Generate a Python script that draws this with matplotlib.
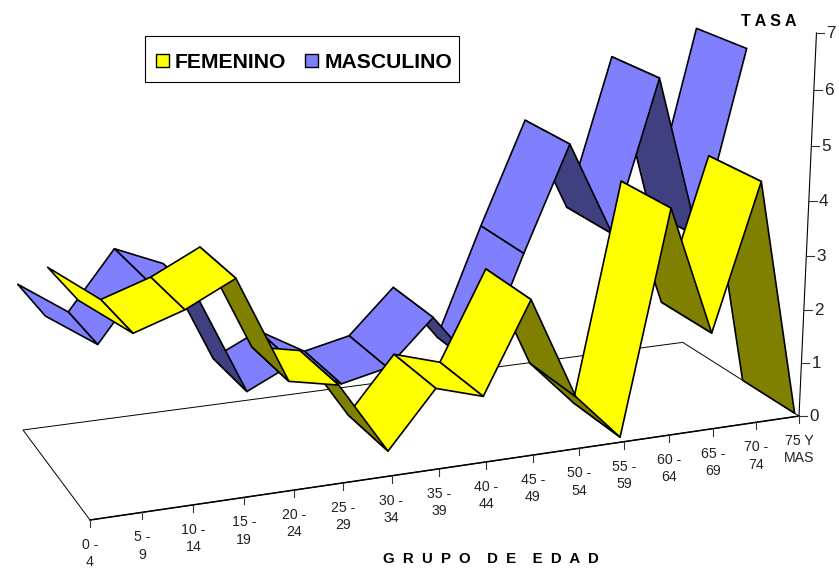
import matplotlib
matplotlib.use("Agg")
import matplotlib.pyplot as plt
from matplotlib.patches import Patch, Polygon, Rectangle

plt.rcParams['font.family'] = ['Liberation Sans', 'DejaVu Sans']

categories = ["0 -\n4", "5 -\n9", "10 -\n14", "15 -\n19", "20 -\n24", "25 -\n29", "30 -\n34", "35 -\n39",
              "40 -\n44", "45 -\n49", "50 -\n54", "55 -\n59", "60 -\n64", "65 -\n69", "70 -\n74", "75 Y\nMAS"]
femenino = [3.69, 3.03, 3.32, 3.75, 1.87, 1.69, 0.39, 1.40, 1.14, 2.77, 0.90, 0.03, 4.11, 1.74, 4.41, 0.0]
masculino = [2.75, 2.14, 3.20, 2.83, 0.95, 1.36, 0.86, 1.05, 1.88, 0.81, 2.87, 4.80, 3.05, 5.85, 2.80, 6.25]
value_ticks = [0, 1, 2, 3, 4, 5, 6, 7]

N_CAT = len(categories)
V_MAX = value_ticks[-1]


def project(cat, depth, value):
    """Perspective view of (category, depth 0..1, value) to figure pixels."""
    t = cat / (N_CAT - 1)
    w = value / V_MAX
    den = 1 + 0.11 * t + 0.094 * depth - 0.0502 * w
    x = (90 + 796.9 * t - 64.84 * depth - 21.6 * w) / den
    y = (520 - 58.2 * t - 49.6 * depth - 426.9 * w) / den
    return x, y


def draw_ribbon(ax, values, d_front, d_back, light, dark, z):
    for i in range(len(values) - 2, -1, -1):
        a = project(i, d_back, values[i])
        b = project(i + 1, d_back, values[i + 1])
        c = project(i + 1, d_front, values[i + 1])
        d = project(i, d_front, values[i])
        pts = [a, b, c, d]
        area = sum(pts[k][0] * pts[(k + 1) % 4][1] - pts[(k + 1) % 4][0] * pts[k][1] for k in range(4))
        # pixels run downwards: a segment seen from below winds the other way
        face = dark if area < 0 else light
        ax.add_patch(Polygon(pts, closed=True, facecolor=face, edgecolor='black',
                             linewidth=1.2, joinstyle='round', zorder=z))
        z += 1
    return z


fig = plt.figure(figsize=(8.39, 5.68), dpi=100)
ax = fig.add_axes([0, 0, 1, 1])
ax.set_xlim(0, 839)
ax.set_ylim(568, 0)
ax.axis('off')

# floor
corners = [project(0, 0, 0), project(N_CAT - 1, 0, 0), project(N_CAT - 1, 1, 0), project(0, 1, 0)]
ax.add_patch(Polygon(corners, closed=True, fill=False, edgecolor='black', linewidth=0.7, zorder=1))
ax.plot(*zip(corners[0], corners[1]), color='black', lw=1.1, zorder=1)

# category ticks and labels
for i, lab in enumerate(categories):
    x, y = project(i, 0, 0)
    ax.plot([x, x], [y, y + 7], color='#333333', lw=0.8, zorder=1)
    ax.text(x, y + 18, lab, ha='center', va='top', fontsize=10.2, color='#222222',
            linespacing=1.3, multialignment='center', clip_on=False)

# value axis
x0, y0 = project(N_CAT - 1, 0, 0)
x1, y1 = project(N_CAT - 1, 0, V_MAX)
ax.plot([x0, x1], [y0, y1], color='black', lw=0.8, zorder=1)
for v in value_ticks:
    x, y = project(N_CAT - 1, 0, v)
    ax.plot([x, x + 8], [y, y], color='#333333', lw=0.8, zorder=1)
    ax.text(x + 10, y + 0.5, str(v), ha='left', va='center', fontsize=12.3, color='#222222')

# ribbons: the rear one first, each from right to left
z = draw_ribbon(ax, masculino, 0.535, 0.965, '#8080FF', '#404080', 5)
draw_ribbon(ax, femenino, 0.035, 0.465, '#FFFF00', '#808000', z)

ax.text(769, 21.5, "T A S A", ha='center', va='center', fontsize=11.6, fontweight='bold')
ax.text(490.5, 559, "G  R  U  P  O    D  E    E  D  A  D", ha='center', va='center', fontsize=10.8, fontweight='bold')

ax.add_patch(Rectangle((145.3, 36), 313.7, 46, facecolor='white', edgecolor='black', linewidth=0.8, zorder=100))
handles = [Patch(facecolor='#FFFF00', edgecolor='black', linewidth=1.0, label='FEMENINO'),
           Patch(facecolor='#8080FF', edgecolor='black', linewidth=1.0, label='MASCULINO')]
leg = ax.legend(handles=handles, ncol=2, loc='upper left', bbox_to_anchor=(144.3, 41.3), bbox_transform=ax.transData,
                borderaxespad=0, prop={'weight': 'bold', 'size': 15.2}, frameon=False,
                handlelength=0.6, handleheight=0.6, handletextpad=0.3, columnspacing=0.9,
                borderpad=0.55)
leg.set_zorder(101)

fig.savefig('out.png', dpi=100)
